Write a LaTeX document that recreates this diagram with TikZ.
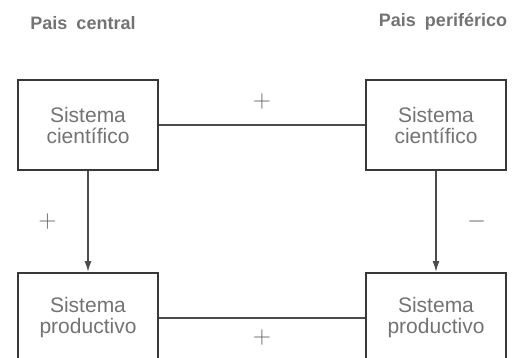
\documentclass[tikz,border=0pt]{standalone}
\usepackage{fontspec}
\setmainfont{Liberation Sans}
\usetikzlibrary{arrows.meta,positioning}

\begin{document}
\begin{tikzpicture}[
  x=0.5pt, y=-0.5pt,
  font=\fontsize{10.5}{10.5}\selectfont,
  node distance=50.5pt and 103pt,
  sysbox/.style={
    draw=black!78,
    line width=1pt,
    text=black!55,
    align=center,
    minimum width=70pt,
    minimum height=45pt,
    inner sep=2pt
  },
  title/.style={font=\fontsize{9}{9}\bfseries\selectfont, text=black!55},
  sign/.style={font=\fontsize{13}{13}\selectfont, text=black!60},
  link/.style={line width=0.7pt, draw=black!70},
  arrow/.style={link, -{Latex[length=1.9mm, width=1.2mm]}}
]

\useasboundingbox (0,0) rectangle (515,358);
\clip (0,0) rectangle (515,358);

% boxes
\node[sysbox] (cienC) at (88,125) {Sistema\\cient\'ifico};
\node[sysbox, right=of cienC] (cienP) {Sistema\\cient\'ifico};
\node[sysbox, below=of cienC] (prodC) {Sistema\\productivo};
\node[sysbox, below=of cienP] (prodP) {Sistema\\productivo};

% column titles
\node[title] (central) at (83,23) {Pais\enspace central};
\node[title] (perif) at (443,22) {Pais\enspace perif\'erico};

% links
\draw[link] (cienC) -- node[sign, above=4pt] {$+$} (cienP);
\draw[link] (prodC) -- node[sign, below=2pt] {$+$} (prodP);
\draw[arrow] (cienC) -- node[sign, left=12pt] {$+$} (prodC);
\draw[arrow] (cienP) -- node[sign, right=12pt] {$-$} (prodP);

\end{tikzpicture}
\end{document}
